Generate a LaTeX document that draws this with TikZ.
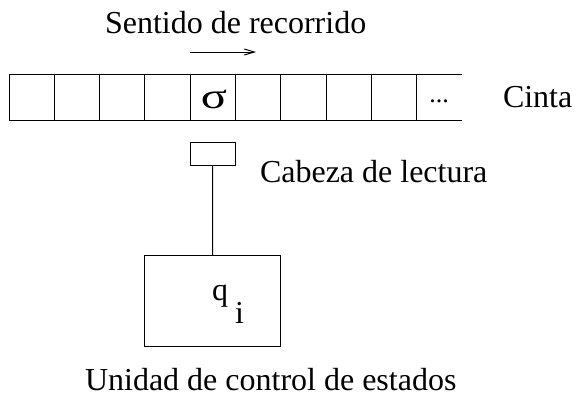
\documentclass[tikz,border=0pt]{standalone}
\usepackage{fontspec}
\setmainfont{Liberation Serif}
\usetikzlibrary{arrows.meta}
\tikzset{
  cell/.style={draw, line width=1pt, minimum width=45.3pt, minimum height=45.5pt, inner sep=0pt, outer sep=0pt, font=\fontsize{32}{38}\selectfont},
  lbl/.style={inner sep=0pt, outer sep=0pt, anchor=base west, font=\fontsize{32}{38}\selectfont},
  box/.style={draw, line width=1pt, inner sep=0pt, outer sep=0pt},
  conn/.style={line width=1pt},
}
\begin{document}
\begin{tikzpicture}[x=1pt, y=-1pt]
\useasboundingbox (0,0) rectangle (576,394);
% tape cells
\foreach \k in {0,...,8} {
  \node[cell] (c\k) at ({31.65+45.3*\k}, 97.25) {};
}
\node[cell, draw=none] (c9) at ({31.65+45.3*9}, 97.25) {};
\node[inner sep=0pt, font=\fontsize{26}{30}\selectfont, anchor=base] (dots) at (439, 102) {...};
\node[inner sep=0pt, anchor=base, font=\fontsize{36}{40}\selectfont] (sigma) at (214, 108) {\scalebox{1.35}[1]{σ}};
\draw[conn] (c9.north west) -- (c9.north east);
\draw[conn] (c9.south west) -- (c9.south east);
% labels
\node[lbl] (sentido) at (105, 33.3) {Sentido de recorrido};
\node[lbl] (cinta) at (503, 107.3) {Cinta};
\node[lbl] (cabeza) at (260, 182.7) {Cabeza de lectura};
\node[lbl] (unidad) at (85, 390) {Unidad de control de estados};
% direction arrow
\coordinate (a1) at (190, 52);
\coordinate (a2) at (256, 52);
\draw[conn, -{Straight Barb[length=10pt, width=6pt]}] (a1) -- (a2);
% head
\node[box, minimum width=45.3pt, minimum height=22.7pt] (head) at (212.65, 153.65) {};
% control unit
\node[box, minimum width=136.4pt, minimum height=90.3pt] (ctrl) at (212.5, 300.85) {};
\node[lbl] (state) at (212, 300) {q\hspace{7pt}\raisebox{-23pt}{i}};
\draw[conn] (head.south) -- (ctrl.north);
\end{tikzpicture}
\end{document}
